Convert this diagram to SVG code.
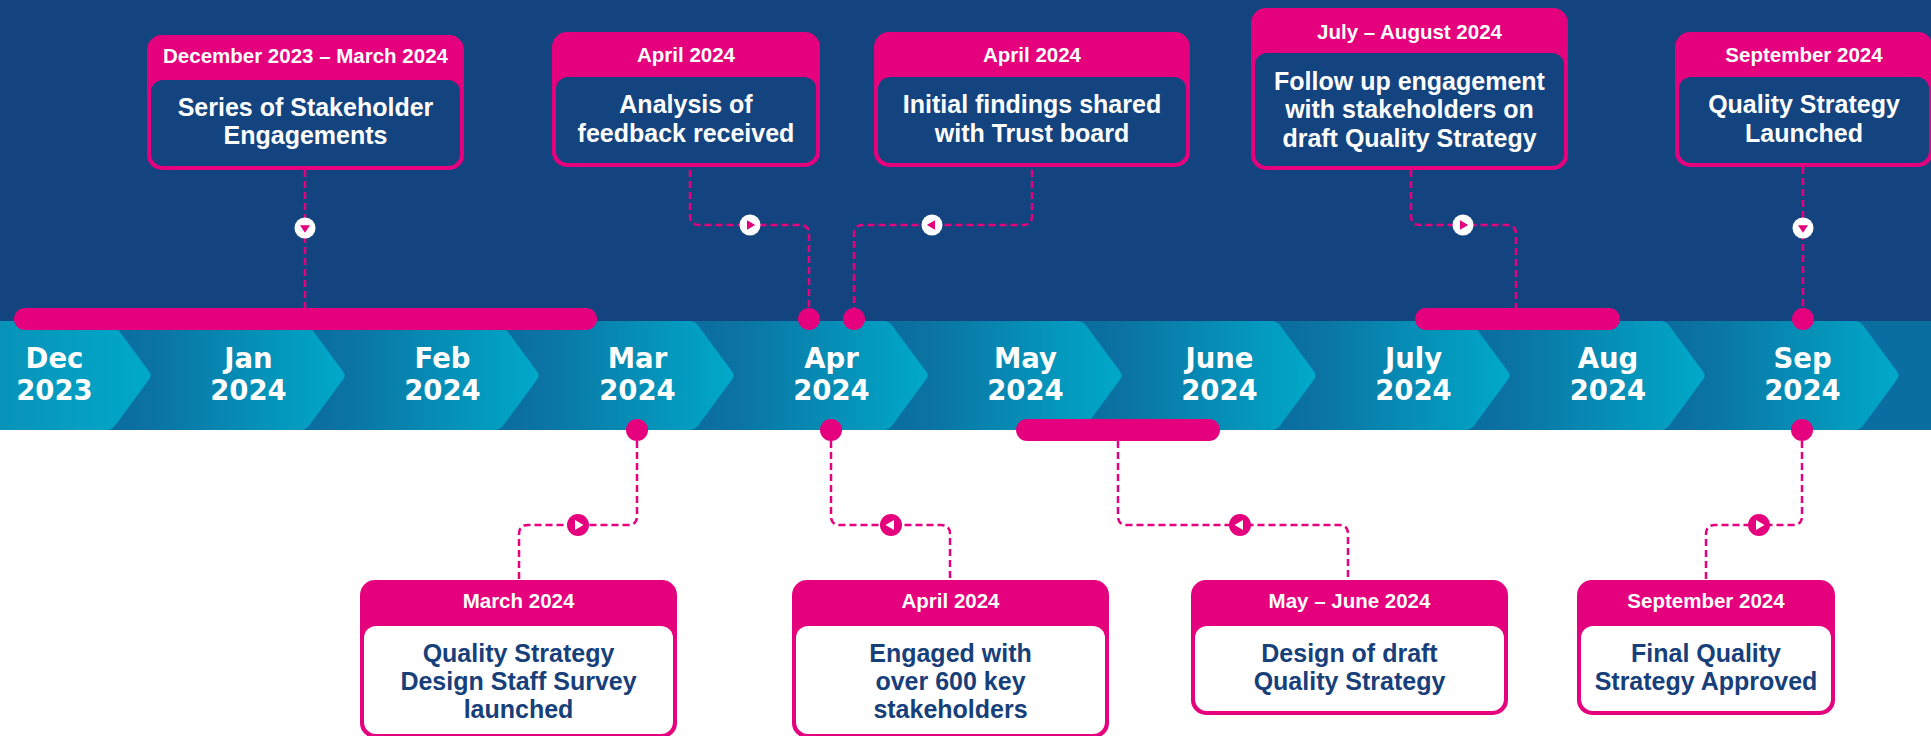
<svg xmlns="http://www.w3.org/2000/svg" width="1931" height="736" viewBox="0 0 1931 736">
<style>
.hdr{font-family:"Liberation Sans",Arial,sans-serif;font-weight:bold;font-size:20.5px;fill:#ffffff;text-anchor:middle}
.bw{font-family:"Liberation Sans",Arial,sans-serif;font-weight:bold;font-size:25px;fill:#ffffff;text-anchor:middle}
.bn{font-family:"Liberation Sans",Arial,sans-serif;font-weight:bold;font-size:25px;fill:#17407a;text-anchor:middle}
.month{font-family:"DejaVu Sans",sans-serif;font-weight:bold;font-size:27.5px;fill:#ffffff;text-anchor:middle}
.outer{fill:#e5007e}
.inN{fill:#14447f}
.inW{fill:#ffffff}
.seg{fill:url(#gSeg)}
.dash{fill:none;stroke:#e5007e;stroke-width:2.5;stroke-dasharray:7 4}
.bar{fill:#e5007e}
.dot{fill:#e5007e}
</style>
<defs>
<linearGradient id="gSeg" x1="0" y1="0" x2="1" y2="0">
<stop offset="0" stop-color="#0a6c9e"/>
<stop offset="0.19" stop-color="#0b73a3"/>
<stop offset="1" stop-color="#00a9c9"/>
</linearGradient>
<linearGradient id="gDec" x1="0" y1="0" x2="1" y2="0">
<stop offset="0" stop-color="#0893b9"/>
<stop offset="1" stop-color="#00a9c9"/>
</linearGradient>
<g id="arrR"><circle r="10.5" fill="#ffffff"/><polygon points="-3,-4.8 5.2,0 -3,4.8" fill="#e5007e"/></g>
<g id="arrL"><circle r="10.5" fill="#ffffff"/><polygon points="3,-4.8 -5.2,0 3,4.8" fill="#e5007e"/></g>
<g id="arrD"><circle r="10.5" fill="#ffffff"/><polygon points="-5,-2.8 5,-2.8 0,4.8" fill="#e5007e"/></g>
<g id="arrRp"><circle r="11" fill="#e5007e"/><polygon points="-3,-5 5.5,0 -3,5" fill="#ffffff"/></g>
<g id="arrLp"><circle r="11" fill="#e5007e"/><polygon points="3,-5 -5.5,0 3,5" fill="#ffffff"/></g>
</defs>

<rect x="0" y="0" width="1931" height="736" fill="#ffffff"/>
<rect x="0" y="0" width="1931" height="322" fill="#14447f"/>

<g id="timeline-band">
<rect x="1850" y="321" width="81" height="109" fill="#0a6fa0"/>
<path class="seg" d="M1661 321 H1854 Q1860 321 1863.5 326 L1897 371.5 Q1900 375.5 1897 379.5 L1863.5 425 Q1860 430 1854 430 H1661 Z"/>
<path class="seg" d="M1466 321 H1660 Q1666 321 1669.5 326 L1703 371.5 Q1706 375.5 1703 379.5 L1669.5 425 Q1666 430 1660 430 H1466 Z"/>
<path class="seg" d="M1272 321 H1465 Q1471 321 1474.5 326 L1508 371.5 Q1511 375.5 1508 379.5 L1474.5 425 Q1471 430 1465 430 H1272 Z"/>
<path class="seg" d="M1078 321 H1271 Q1277 321 1280.5 326 L1314 371.5 Q1317 375.5 1314 379.5 L1280.5 425 Q1277 430 1271 430 H1078 Z"/>
<path class="seg" d="M884 321 H1077 Q1083 321 1086.5 326 L1120 371.5 Q1123 375.5 1120 379.5 L1086.5 425 Q1083 430 1077 430 H884 Z"/>
<path class="seg" d="M690 321 H883 Q889 321 892.5 326 L926 371.5 Q929 375.5 926 379.5 L892.5 425 Q889 430 883 430 H690 Z"/>
<path class="seg" d="M495 321 H689 Q695 321 698.5 326 L732 371.5 Q735 375.5 732 379.5 L698.5 425 Q695 430 689 430 H495 Z"/>
<path class="seg" d="M301 321 H494 Q500 321 503.5 326 L537 371.5 Q540 375.5 537 379.5 L503.5 425 Q500 430 494 430 H301 Z"/>
<path class="seg" d="M107 321 H300 Q306 321 309.5 326 L343 371.5 Q346 375.5 343 379.5 L309.5 425 Q306 430 300 430 H107 Z"/>
<path fill="url(#gDec)" d="M0 321 H106 Q112 321 115.5 326 L149 371.5 Q152 375.5 149 379.5 L115.5 425 Q112 430 106 430 H0 Z"/>
<text class="month" x="54.5" y="368">Dec</text><text class="month" x="54.5" y="400">2023</text>
<text class="month" x="248.5" y="368">Jan</text><text class="month" x="248.5" y="400">2024</text>
<text class="month" x="442.5" y="368">Feb</text><text class="month" x="442.5" y="400">2024</text>
<text class="month" x="637.5" y="368">Mar</text><text class="month" x="637.5" y="400">2024</text>
<text class="month" x="831.5" y="368">Apr</text><text class="month" x="831.5" y="400">2024</text>
<text class="month" x="1025.5" y="368">May</text><text class="month" x="1025.5" y="400">2024</text>
<text class="month" x="1219.5" y="368">June</text><text class="month" x="1219.5" y="400">2024</text>
<text class="month" x="1413.5" y="368">July</text><text class="month" x="1413.5" y="400">2024</text>
<text class="month" x="1608" y="368">Aug</text><text class="month" x="1608" y="400">2024</text>
<text class="month" x="1802.5" y="368">Sep</text><text class="month" x="1802.5" y="400">2024</text>
</g>

<g id="connectors">
<path class="dash" d="M305 170 V308"/>
<path class="dash" d="M690 170 V216 Q690 225 699 225 H800 Q809 225 809 234 V319"/>
<path class="dash" d="M1032 170 V216 Q1032 225 1023 225 H863 Q854 225 854 234 V319"/>
<path class="dash" d="M1411 170 V216 Q1411 225 1420 225 H1507 Q1516 225 1516 234 V308"/>
<path class="dash" d="M1803 167 V319"/>
<path class="dash" d="M637 430 V516 Q637 525 628 525 H528 Q519 525 519 534 V580"/>
<path class="dash" d="M831 430 V516 Q831 525 840 525 H941 Q950 525 950 534 V580"/>
<path class="dash" d="M1118 441 V516 Q1118 525 1127 525 H1339 Q1348 525 1348 534 V580"/>
<path class="dash" d="M1802 430 V516 Q1802 525 1793 525 H1715 Q1706 525 1706 534 V580"/>
<use href="#arrD" x="305" y="228"/>
<use href="#arrR" x="750" y="225"/>
<use href="#arrL" x="932" y="225"/>
<use href="#arrR" x="1463" y="225"/>
<use href="#arrD" x="1803" y="228"/>
<use href="#arrRp" x="578" y="525"/>
<use href="#arrLp" x="891" y="525"/>
<use href="#arrLp" x="1240" y="525"/>
<use href="#arrRp" x="1759" y="525"/>
</g>

<g id="markers">
<rect class="bar" x="14" y="308" width="583" height="22" rx="11"/>
<rect class="bar" x="1415" y="308" width="205" height="22" rx="11"/>
<rect class="bar" x="1016" y="419" width="204" height="22" rx="11"/>
<circle class="dot" cx="809" cy="319" r="11"/>
<circle class="dot" cx="854" cy="319" r="11"/>
<circle class="dot" cx="1803" cy="319" r="11"/>
<circle class="dot" cx="637" cy="430" r="11"/>
<circle class="dot" cx="831" cy="430" r="11"/>
<circle class="dot" cx="1802" cy="430" r="11"/>
</g>

<g id="node-stakeholder-engagements">
<rect class="outer" x="147" y="35" width="317" height="135" rx="15"/>
<rect class="inN" x="151" y="80" width="309" height="86" rx="12"/>
<text class="hdr" x="305.5" y="63">December 2023 – March 2024</text>
<text class="bw" x="305.5" y="116">Series of Stakeholder</text>
<text class="bw" x="305.5" y="144">Engagements</text>
</g>

<g id="node-analysis-feedback">
<rect class="outer" x="552" y="32" width="268" height="135" rx="15"/>
<rect class="inN" x="556" y="77" width="260" height="86" rx="12"/>
<text class="hdr" x="686" y="62">April 2024</text>
<text class="bw" x="686" y="113">Analysis of</text>
<text class="bw" x="686" y="142">feedback received</text>
</g>

<g id="node-initial-findings">
<rect class="outer" x="874" y="32" width="316" height="135" rx="15"/>
<rect class="inN" x="878" y="77" width="308" height="86" rx="12"/>
<text class="hdr" x="1032" y="62">April 2024</text>
<text class="bw" x="1032" y="113">Initial findings shared</text>
<text class="bw" x="1032" y="142">with Trust board</text>
</g>

<g id="node-follow-up">
<rect class="outer" x="1251" y="8" width="317" height="162" rx="15"/>
<rect class="inN" x="1255" y="53" width="309" height="113" rx="12"/>
<text class="hdr" x="1409.5" y="39">July – August 2024</text>
<text class="bw" x="1409.5" y="90">Follow up engagement</text>
<text class="bw" x="1409.5" y="118">with stakeholders on</text>
<text class="bw" x="1409.5" y="147">draft Quality Strategy</text>
</g>

<g id="node-strategy-launched">
<rect class="outer" x="1675" y="32" width="258" height="135" rx="15"/>
<rect class="inN" x="1679" y="77" width="250" height="86" rx="12"/>
<text class="hdr" x="1804" y="62">September 2024</text>
<text class="bw" x="1804" y="113">Quality Strategy</text>
<text class="bw" x="1804" y="142">Launched</text>
</g>

<g id="node-staff-survey">
<rect class="outer" x="360" y="580" width="317" height="158" rx="15"/>
<rect class="inW" x="364" y="626" width="309" height="108" rx="12"/>
<text class="hdr" x="518.5" y="608">March 2024</text>
<text class="bn" x="518.5" y="662">Quality Strategy</text>
<text class="bn" x="518.5" y="690">Design Staff Survey</text>
<text class="bn" x="518.5" y="718">launched</text>
</g>

<g id="node-engaged-600">
<rect class="outer" x="792" y="580" width="317" height="158" rx="15"/>
<rect class="inW" x="796" y="626" width="309" height="108" rx="12"/>
<text class="hdr" x="950.5" y="608">April 2024</text>
<text class="bn" x="950.5" y="662">Engaged with</text>
<text class="bn" x="950.5" y="690">over 600 key</text>
<text class="bn" x="950.5" y="718">stakeholders</text>
</g>

<g id="node-design-draft">
<rect class="outer" x="1191" y="580" width="317" height="135" rx="15"/>
<rect class="inW" x="1195" y="626" width="309" height="85" rx="12"/>
<text class="hdr" x="1349.5" y="608">May – June 2024</text>
<text class="bn" x="1349.5" y="662">Design of draft</text>
<text class="bn" x="1349.5" y="690">Quality Strategy</text>
</g>

<g id="node-final-approved">
<rect class="outer" x="1577" y="580" width="258" height="135" rx="15"/>
<rect class="inW" x="1581" y="626" width="250" height="85" rx="12"/>
<text class="hdr" x="1706" y="608">September 2024</text>
<text class="bn" x="1706" y="662">Final Quality</text>
<text class="bn" x="1706" y="690">Strategy Approved</text>
</g>
</svg>
